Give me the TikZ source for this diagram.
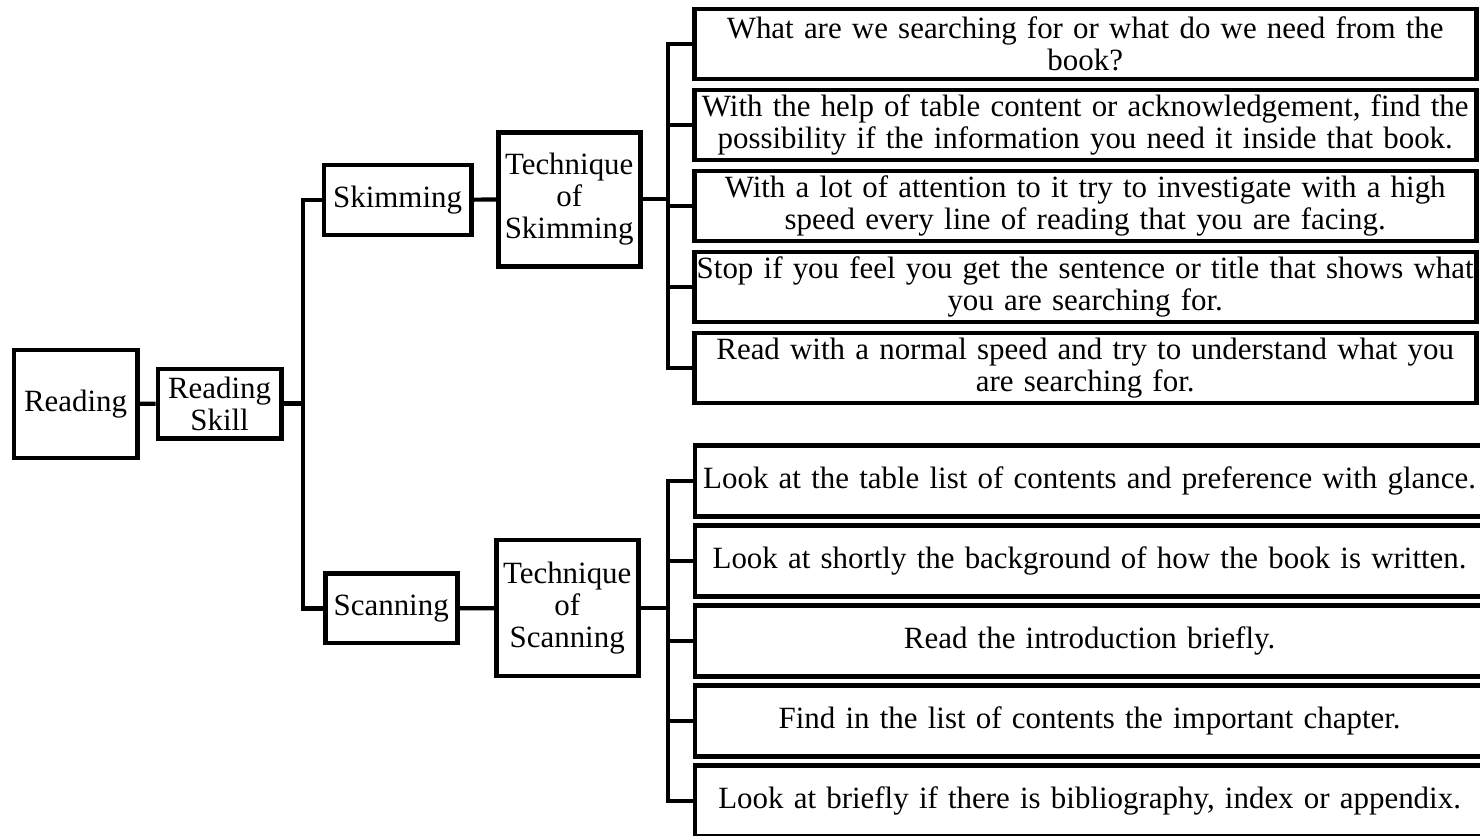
\documentclass[tikz,border=0pt]{standalone}
\usepackage{fontspec}
\setmainfont[WordSpace=1.32]{Liberation Serif}
\usepackage{tikz}
\usetikzlibrary{calc}

\begin{document}
\begin{tikzpicture}[box/.style={draw, line width=3.4pt, align=center, inner xsep=0pt, font=\fontsize{22}{23}\selectfont},
 link/.style={line width=3pt}]

 \clip (0,0) rectangle (37,-20.9);

 \node[box, minimum width=3.08cm, minimum height=2.7cm] (r) at (1.89,-10.1) {Reading};

 \node[box, minimum width=3.08cm, minimum height=1.73cm] (rs) at (5.49,-10.09) {Reading\\Skill};

 \node[box, minimum width=3.68cm, minimum height=1.75cm] (sk) at (9.94,-5) {Skimming};

 \node[box, minimum width=3.3cm, minimum height=1.73cm] (sc) at (9.78,-15.21) {Scanning};

 \node[box, minimum width=3.55cm, minimum height=3.35cm] (tsk) at (14.23,-4.98) {Technique\\of\\Skimming};

 \node[box, minimum width=3.55cm, minimum height=3.4cm] (tsc) at (14.18,-15.2) {Technique\\of\\Scanning};

 \node[box, minimum width=19.55cm, minimum height=1.75cm] (k1) at (27.13,-1.1) {What are we searching for or what do we need from the\\book?};

 \node[box, minimum width=19.55cm, minimum height=1.75cm] (k2) at (27.13,-3.125) {With the help of table content or acknowledgement, find the\\possibility if the information you need it inside that book.};

 \node[box, minimum width=19.55cm, minimum height=1.75cm] (k3) at (27.13,-5.15) {With a lot of attention to it try to investigate with a high\\speed every line of reading that you are facing.};

 \node[box, minimum width=19.55cm, minimum height=1.75cm] (k4) at (27.13,-7.175) {Stop if you feel you get the sentence or title that shows what\\you are searching for.};

 \node[box, minimum width=19.55cm, minimum height=1.75cm] (k5) at (27.13,-9.2) {Read with a normal speed and try to understand what you\\are searching for.};

 \node[box, minimum width=19.73cm, minimum height=1.78cm] (c1) at (27.24,-12.025) {Look at the table list of contents and preference with glance.};

 \node[box, minimum width=19.73cm, minimum height=1.78cm] (c2) at (27.24,-14.025) {Look at shortly the background of how the book is written.};

 \node[box, minimum width=19.73cm, minimum height=1.78cm] (c3) at (27.24,-16.025) {Read the introduction briefly.};

 \node[box, minimum width=19.73cm, minimum height=1.78cm] (c4) at (27.24,-18.025) {Find in the list of contents the important chapter.};

 \node[box, minimum width=19.73cm, minimum height=1.78cm] (c5) at (27.24,-20.025) {Look at briefly if there is bibliography, index or appendix.};

 \coordinate (j) at (7.575,-10.09);
 \coordinate (jk) at (16.7,-4.98);
 \coordinate (jc) at (16.7,-15.2);

 \draw[link] (r) -- (rs);
 \draw[link] (rs) -- (j);
 \draw[link] (sk.west) -| (j) |- (sc.west);
 \draw[link] (sk) -- (tsk);
 \draw[link] (sc) -- (tsc);
 \draw[link] (tsk) -- (jk);
 \draw[link] (tsc) -- (jc);
 \draw[link] (k1.west) -| (jk) |- (k5.west);
 \draw[link] (c1.west) -| (jc) |- (c5.west);
 \foreach \i in {2,3,4} {
 \draw[link] (jk |- k\i) -- (k\i.west);
 \draw[link] (jc |- c\i) -- (c\i.west);
 }

\end{tikzpicture}
\end{document}
